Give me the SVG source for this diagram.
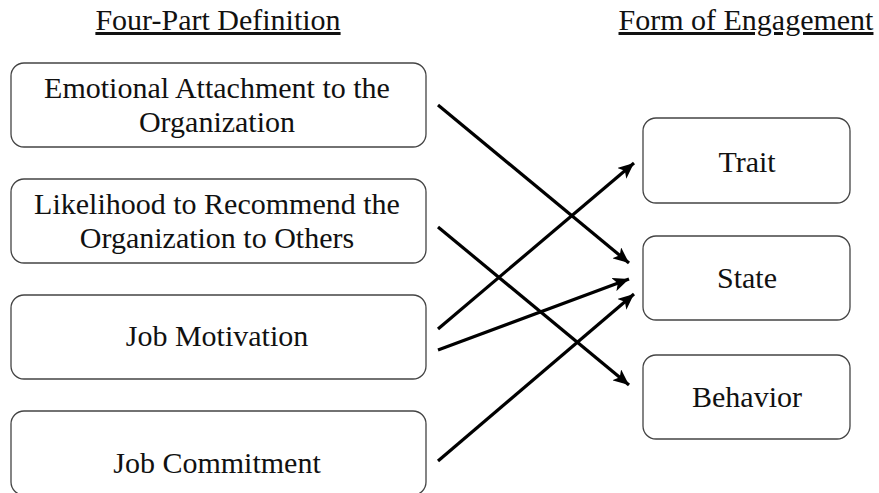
<svg xmlns="http://www.w3.org/2000/svg" width="879" height="493" viewBox="0 0 879 493">
<defs>
<style>
.box{fill:#fff;stroke:#444;stroke-width:1.3}
text{font-family:"Liberation Serif","Times New Roman",Times,serif;font-size:30px;fill:#111;text-anchor:middle}
.h{text-decoration:underline}
.c{stroke:#000;stroke-width:3.2;fill:none;marker-end:url(#ah)}
</style>
<marker id="ah" markerUnits="userSpaceOnUse" markerWidth="18" markerHeight="14" refX="16" refY="7" orient="auto">
<path d="M0,0 L16,7 L0,14 L4,7 Z" fill="#000"/>
</marker>
</defs>
<rect width="879" height="493" fill="#fff"/>
<g id="header-left"><text class="h" x="218" y="30">Four-Part Definition</text></g>
<g id="header-right"><text class="h" x="746" y="30">Form of Engagement</text></g>
<g id="emotional">
<rect class="box" x="11" y="63" width="415" height="84" rx="13"/>
<text x="217" y="98">Emotional Attachment to the</text>
<text x="217" y="132">Organization</text>
</g>
<g id="likelihood">
<rect class="box" x="11" y="179" width="415" height="84" rx="13"/>
<text x="217" y="214">Likelihood to Recommend the</text>
<text x="217" y="248">Organization to Others</text>
</g>
<g id="motivation">
<rect class="box" x="11" y="295" width="415" height="84" rx="13"/>
<text x="217" y="346">Job Motivation</text>
</g>
<g id="commitment">
<rect class="box" x="11" y="411" width="415" height="84" rx="13"/>
<text x="217" y="473">Job Commitment</text>
</g>
<g id="trait">
<rect class="box" x="643" y="118" width="207" height="85" rx="13"/>
<text x="747" y="172">Trait</text>
</g>
<g id="state">
<rect class="box" x="643" y="236" width="207" height="84" rx="13"/>
<text x="747" y="288">State</text>
</g>
<g id="behavior">
<rect class="box" x="643" y="355" width="207" height="84" rx="13"/>
<text x="747" y="407">Behavior</text>
</g>
<g id="connectors">
<line class="c" x1="438" y1="105" x2="629" y2="263"/>
<line class="c" x1="438" y1="227" x2="629" y2="385"/>
<line class="c" x1="438" y1="329" x2="634" y2="163"/>
<line class="c" x1="438" y1="350" x2="629" y2="279"/>
<line class="c" x1="438" y1="461" x2="634" y2="294"/>
</g>
</svg>
